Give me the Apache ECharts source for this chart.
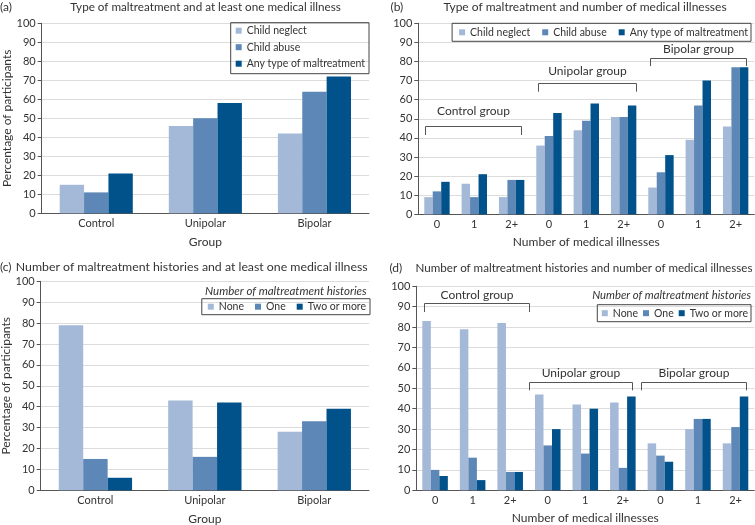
<!DOCTYPE html>
<html><head><meta charset="utf-8">
<script src="https://cdn.jsdelivr.net/npm/echarts@6/dist/echarts.min.js"></script>
<style>html,body{margin:0;padding:0;background:#fff}#c{width:755px;height:525px}</style>
</head><body><div id="c"></div>
<script>
// ---------- data ----------
const groupCats = ['Control', 'Unipolar', 'Bipolar'];
const illnessCats = ['0', '1', '2+', '0', '1', '2+', '0', '1', '2+'];
const typeNames = ['Child neglect', 'Child abuse', 'Any type of maltreatment'];
const countNames = ['None', 'One', 'Two or more'];
const bracketNames = ['Control group', 'Unipolar group', 'Bipolar group'];

const aNeglect = [15, 46, 42];
const aAbuse   = [11, 50, 64];
const aAny     = [21, 58, 72];

const bNeglect = [9, 16, 9, 36, 44, 51, 14, 39, 46];
const bAbuse   = [12, 9, 18, 41, 49, 51, 22, 57, 77];
const bAny     = [17, 21, 18, 53, 58, 57, 31, 70, 77];

const cNone = [79, 43, 28];
const cOne  = [15, 16, 33];
const cTwo  = [6, 42, 39];

const dNone = [83, 79, 82, 47, 42, 43, 23, 30, 23];
const dOne  = [10, 16, 9, 22, 18, 11, 17, 35, 31];
const dTwo  = [7, 5, 9, 30, 40, 46, 14, 35, 46];

// ---------- style ----------
const FONT = 'Lato';
const TXT = '#333';
const COLORS = ['#a3b9d7', '#5c87b6', '#01528b'];

const titles = [
  '(a)', 'Type of maltreatment and at least one medical illness',
  '(b)', 'Type of maltreatment and number of medical illnesses',
  '(c)', 'Number of maltreatment histories and at least one medical illness',
  '(d)', 'Number of maltreatment histories and number of medical illnesses'
];
const legendTitle = 'Number of maltreatment histories';

const grids = [
  {left: 41.7, top: 23.3, width: 327.3, height: 190},
  {left: 418.3, top: 23.3, width: 336, height: 191},
  {left: 40.7, top: 281.3, width: 328.3, height: 209},
  {left: 416.3, top: 286.3, width: 338, height: 204}
];

// bracket annotations: [from index, to index, line value, tick value, label value], plus side extensions
const bBrackets = [
  {from: 0, to: 2, y: 46, t: 41.5, ly: 54, l: 0.33, r: 0.24},
  {from: 3, to: 5, y: 68.6, t: 64.2, ly: 74.7, l: 0.3, r: 0.34},
  {from: 6, to: 8, y: 82, t: 77.6, ly: 86.6, l: 0.29, r: 0.27}
];
const dBrackets = [
  {from: 0, to: 2, y: 91.8, t: 87.4, ly: 95.8, l: 0.3, r: 0.49},
  {from: 3, to: 5, y: 53.1, t: 49, ly: 57.2, l: 0.51, r: 0.25},
  {from: 6, to: 8, y: 53.1, t: 49, ly: 57.2, l: 0.51, r: 0.27}
];

function xAxis(gi, cats, name, gap) {
  return {
    type: 'category', gridIndex: gi, data: cats,
    name: name, nameLocation: 'middle', nameGap: gap,
    nameTextStyle: {fontFamily: FONT, fontSize: 12, color: TXT},
    axisLine: {lineStyle: {color: '#555', width: 1}},
    axisTick: {show: false},
    axisLabel: {fontFamily: FONT, fontSize: 11, color: TXT, margin: 5}
  };
}
function yAxis(gi, name) {
  return {
    type: 'value', gridIndex: gi, min: 0, max: 100, interval: 10,
    name: name, nameLocation: 'middle', nameGap: 29,
    nameTextStyle: {fontFamily: FONT, fontSize: 12, color: TXT},
    axisLine: {show: true, lineStyle: {color: '#555', width: 1}},
    axisTick: {show: true, length: 4, lineStyle: {color: '#555'}},
    axisLabel: {fontFamily: FONT, fontSize: 11, color: TXT, margin: 6},
    splitLine: {lineStyle: {color: '#dcdcdc', width: 1}}
  };
}
function bar(gi, name, data, ci, gap) {
  return {
    type: 'bar', name: name, xAxisIndex: gi, yAxisIndex: gi, data: data,
    barGap: '0%', barCategoryGap: gap, itemStyle: {color: COLORS[ci]},
    emphasis: {disabled: true}
  };
}
function brackets(gi, items) {
  return {
    type: 'custom', xAxisIndex: gi, yAxisIndex: gi, silent: true, z: 5,
    encode: {x: 0, y: 2},
    data: items.map((b, i) => [b.from, b.to, b.y, b.t, b.ly, i]),
    renderItem: function (params, api) {
      const b = items[params.dataIndex];
      const band = api.size([1, 0])[0];
      const p0 = api.coord([api.value(0), api.value(2)]);
      const p1 = api.coord([api.value(1), api.value(2)]);
      const yt = api.coord([api.value(0), api.value(3)])[1];
      const yl = api.coord([api.value(0), api.value(4)])[1];
      const x0 = Math.round(p0[0] - band * b.l) + 0.5;
      const x1 = Math.round(p1[0] + band * b.r) + 0.5;
      const y = Math.round(p0[1]) + 0.5;
      return {
        type: 'group',
        children: [
          {type: 'polyline', shape: {points: [[x0, yt], [x0, y], [x1, y], [x1, yt]]},
           style: {stroke: '#555', lineWidth: 1, fill: null}},
          {type: 'text', style: {x: (x0 + x1) / 2, y: yl, text: bracketNames[api.value(5)],
           fill: TXT, font: '12px ' + FONT, align: 'center', verticalAlign: 'middle'}}
        ]
      };
    }
  };
}
function legend(names, opts) {
  return Object.assign({
    data: names, icon: 'rect', itemWidth: 6, itemHeight: 6, selectedMode: false,
    borderColor: '#444', borderWidth: 1, borderRadius: 0,
    textStyle: {fontFamily: FONT, fontSize: 10.5, color: TXT, lineHeight: 14}
  }, opts);
}
function txt(x, y, text, size, align, italic) {
  return {type: 'text', x: x, y: y, silent: true,
    style: {text: text, fill: TXT, font: (italic ? 'italic ' : '') + size + 'px ' + FONT, align: align, verticalAlign: 'middle'}};
}

const option = {
  animation: false,
  grid: grids.map(g => Object.assign({outerBoundsMode: 'none', containLabel: false}, g)),
  xAxis: [
    xAxis(0, groupCats, 'Group', 23),
    xAxis(1, illnessCats, 'Number of medical illnesses', 22),
    xAxis(2, groupCats, 'Group', 23),
    xAxis(3, illnessCats, 'Number of medical illnesses', 22)
  ],
  yAxis: [
    yAxis(0, 'Percentage of participants'),
    yAxis(1, ''),
    yAxis(2, 'Percentage of participants'),
    yAxis(3, '')
  ],
  legend: [
    legend(typeNames, {orient: 'vertical', right: 386, top: 22.7, itemGap: 2.5, padding: [1, 4, 3, 5]}),
    legend(typeNames, {orient: 'horizontal', right: 4, top: 23.3, itemGap: 12, padding: [2, 3, 2, 7]}),
    legend(countNames, {orient: 'horizontal', right: 385, top: 298.7, itemGap: 11, padding: [1, 4, 1, 6]}),
    legend(countNames, {orient: 'horizontal', right: 4, top: 304.7, itemGap: 5, padding: [1.5, 3, 1.5, 4.5]})
  ],
  graphic: [
    txt(0, 7, titles[0], 12, 'left'),
    txt(205.5, 7.5, titles[1], 11.7, 'center'),
    txt(390.5, 7, titles[2], 12, 'left'),
    txt(585, 7.5, titles[3], 12, 'center'),
    txt(0, 267, titles[4], 12, 'left'),
    txt(191.7, 267, titles[5], 12.3, 'center'),
    txt(389.5, 268, titles[6], 12, 'left'),
    txt(584, 268, titles[7], 11.6, 'center'),
    txt(366.7, 291, legendTitle, 11.5, 'right', true),
    txt(751, 295.3, legendTitle, 11.3, 'right', true)
  ],
  series: [
    bar(0, typeNames[0], aNeglect, 0, '33%'),
    bar(0, typeNames[1], aAbuse, 1, '33%'),
    bar(0, typeNames[2], aAny, 2, '33%'),
    bar(1, typeNames[0], bNeglect, 0, '32%'),
    bar(1, typeNames[1], bAbuse, 1, '32%'),
    bar(1, typeNames[2], bAny, 2, '32%'),
    bar(2, countNames[0], cNone, 0, '33%'),
    bar(2, countNames[1], cOne, 1, '33%'),
    bar(2, countNames[2], cTwo, 2, '33%'),
    bar(3, countNames[0], dNone, 0, '32%'),
    bar(3, countNames[1], dOne, 1, '32%'),
    bar(3, countNames[2], dTwo, 2, '32%'),
    brackets(1, bBrackets),
    brackets(3, dBrackets)
  ]
};
const chart = echarts.init(document.getElementById('c'), null, {renderer: 'canvas'});
chart.setOption(option);
</script></body></html>
